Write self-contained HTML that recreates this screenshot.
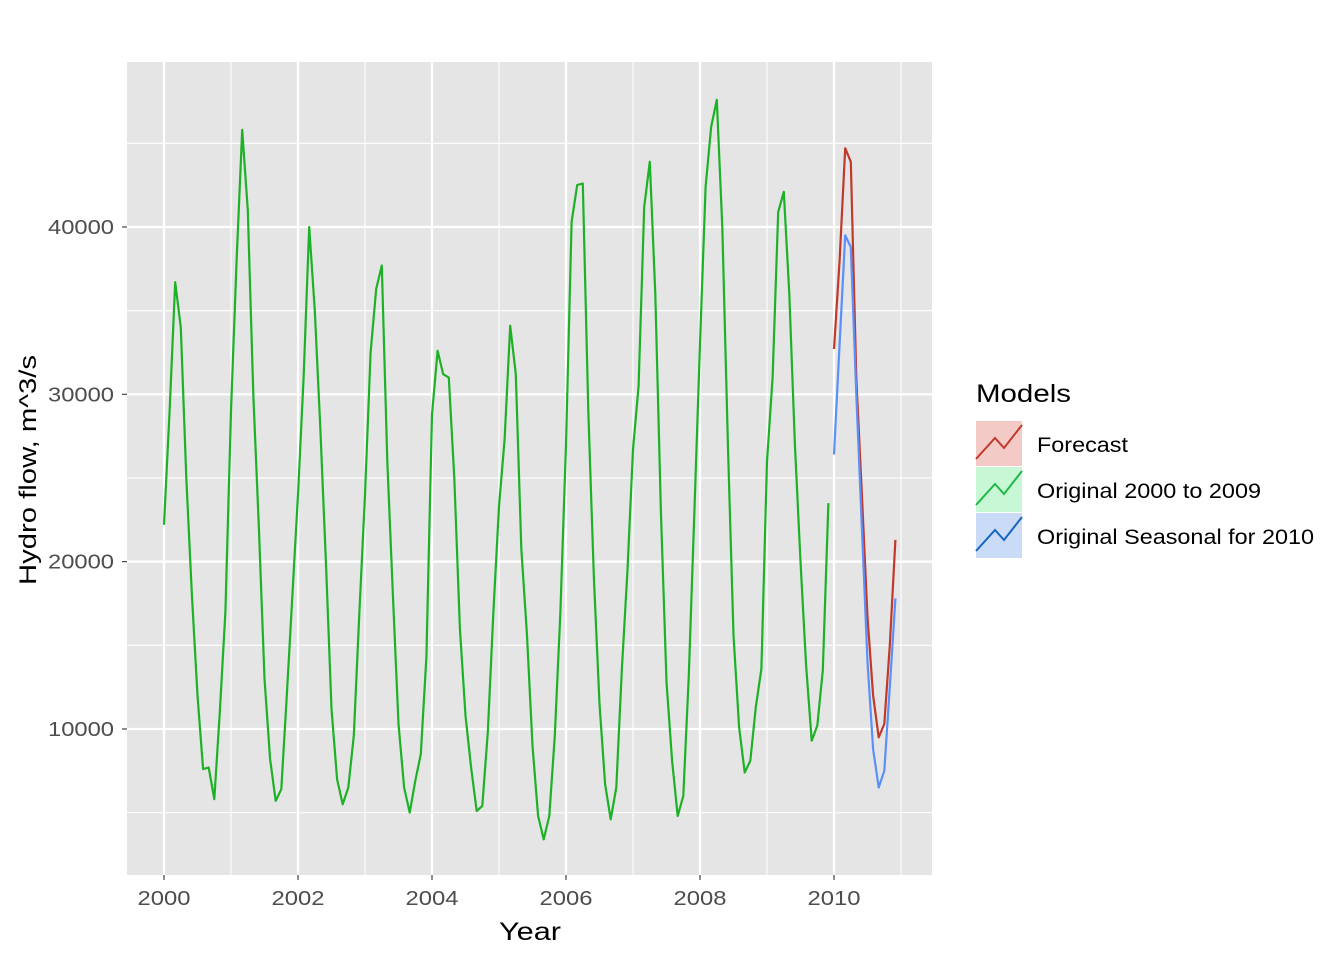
<!DOCTYPE html>
<html><head><meta charset="utf-8"><style>
body{margin:0;background:#fff;}
svg{display:block;font-family:"Liberation Sans",Arial,sans-serif;}
</style></head><body>
<svg id="chart" width="1344" height="960">
<rect x="127" y="62" width="805" height="813" fill="#e5e5e5"/>
<g id="grid"></g>
<g id="series"></g>
<g id="axes"></g>
<text x="499" y="940" font-size="25" textLength="62" lengthAdjust="spacingAndGlyphs" fill="#000">Year</text>
<text transform="translate(36,585) rotate(-90)" font-size="24" textLength="230" lengthAdjust="spacingAndGlyphs" fill="#000">Hydro flow, m^3/s</text>
<g>
<text x="976" y="402" font-size="25" textLength="95" lengthAdjust="spacingAndGlyphs">Models</text>
<g>
<rect x="976" y="421" width="46" height="45" fill="#f4cac6"/>
<polyline points="976,459 995,438 1004,448 1022,425" fill="none" stroke="#c0392b" stroke-width="2"/>
<text x="1037" y="452" font-size="21" textLength="91" lengthAdjust="spacingAndGlyphs">Forecast</text></g>
<g>
<rect x="976" y="467" width="46" height="45" fill="#c7f7d5"/>
<polyline points="976,505 995,484 1004,494 1022,471" fill="none" stroke="#1db845" stroke-width="2"/>
<text x="1037" y="498" font-size="21" textLength="224" lengthAdjust="spacingAndGlyphs">Original 2000 to 2009</text></g>
<g>
<rect x="976" y="513" width="46" height="45" fill="#c9dbf7"/>
<polyline points="976,551 995,530 1004,540 1022,517" fill="none" stroke="#1565c0" stroke-width="2"/>
<text x="1037" y="544" font-size="21" textLength="277" lengthAdjust="spacingAndGlyphs">Original Seasonal for 2010</text></g>
</g>
</svg>
<script>
const original = [22200,29000,36700,34000,25000,18000,12000,7600,7700,5800,11000,17000,
29000,38000,45800,41000,30000,22000,13000,8200,5700,6400,12000,18000,
24000,31000,40000,35000,28000,20000,11200,7000,5500,6500,9600,17000,
24000,32500,36300,37700,26000,18000,10300,6500,5000,6900,8500,14300,
28800,32600,31200,31000,25000,16000,10800,7700,5100,5400,9800,17000,
23300,27300,34100,31200,20800,15700,9000,4800,3400,4800,9600,17000,
27000,40300,42500,42600,29000,19000,11500,6700,4600,6500,13500,19400,
26700,30500,41200,43900,36000,23000,12800,8100,4800,6000,13200,23000,
33000,42400,46000,47600,40000,27000,15600,10100,7400,8100,11300,13600,
26000,31000,40900,42100,36000,27000,20000,13800,9300,10200,13500,23500];
const forecast = [32700,38000,44700,43900,31000,24000,16700,12000,9500,10300,15000,21300];
const seasonal = [26400,33000,39500,38800,30000,22000,14000,8800,6500,7500,12500,17800];
const xTicks = [2000,2002,2004,2006,2008,2010];
const yTicks = [10000,20000,30000,40000];
const X = t => 164 + (t-2000)*67;
const Y = v => 896.3 - v*0.016733;
const NS="http://www.w3.org/2000/svg";
function mk(tag,attrs,parent){const e=document.createElementNS(NS,tag);for(const k in attrs)e.setAttribute(k,attrs[k]);parent.appendChild(e);return e;}
const grid=document.getElementById('grid'), ser=document.getElementById('series'), axes=document.getElementById('axes');
for(let v=5000;v<=45000;v+=5000){const major=v%10000===0;
 const l=mk('line',{x1:127,x2:932,y1:Y(v),y2:Y(v),stroke:'#fff','stroke-width':major?2.2:1.1},grid);
 
 }
for(let t=1999;t<=2011;t++){const x=X(t);if(x<127||x>932)continue;const major=t%2===0;
 const l=mk('line',{x1:x,x2:x,y1:62,y2:875,stroke:'#fff','stroke-width':major?2.2:1.1},grid);
 
 }
yTicks.forEach(v=>{const t=mk('text',{x:48,y:Y(v)+7,'font-size':20,textLength:66,lengthAdjust:'spacingAndGlyphs',fill:'#4d4d4d'},axes);t.textContent=v;
 
 
 mk('line',{x1:122,x2:127,y1:Y(v),y2:Y(v),stroke:'#333','stroke-width':1.1},axes);});
xTicks.forEach(v=>{const t=mk('text',{x:X(v)-26.5,y:905,'font-size':20,textLength:53,lengthAdjust:'spacingAndGlyphs',fill:'#4d4d4d'},axes);t.textContent=v;
 
 
 mk('line',{x1:X(v),x2:X(v),y1:875,y2:880,stroke:'#333','stroke-width':1.1},axes);});
function line(arr,start,color,name){const pts=arr.map((v,i)=>X(start+i/12).toFixed(1)+','+Y(v).toFixed(1)).join(' ');
 const p=mk('polyline',{points:pts,fill:'none',stroke:color,'stroke-width':2.2,'stroke-linejoin':'round'},ser);
 
 }
line(original,2000,'#1db226','original-2000-2009-line');
line(forecast,2010,'#c0392b','forecast-line');
line(seasonal,2010,'#5b8ff9','seasonal-2010-line');
</script>
</body></html>
